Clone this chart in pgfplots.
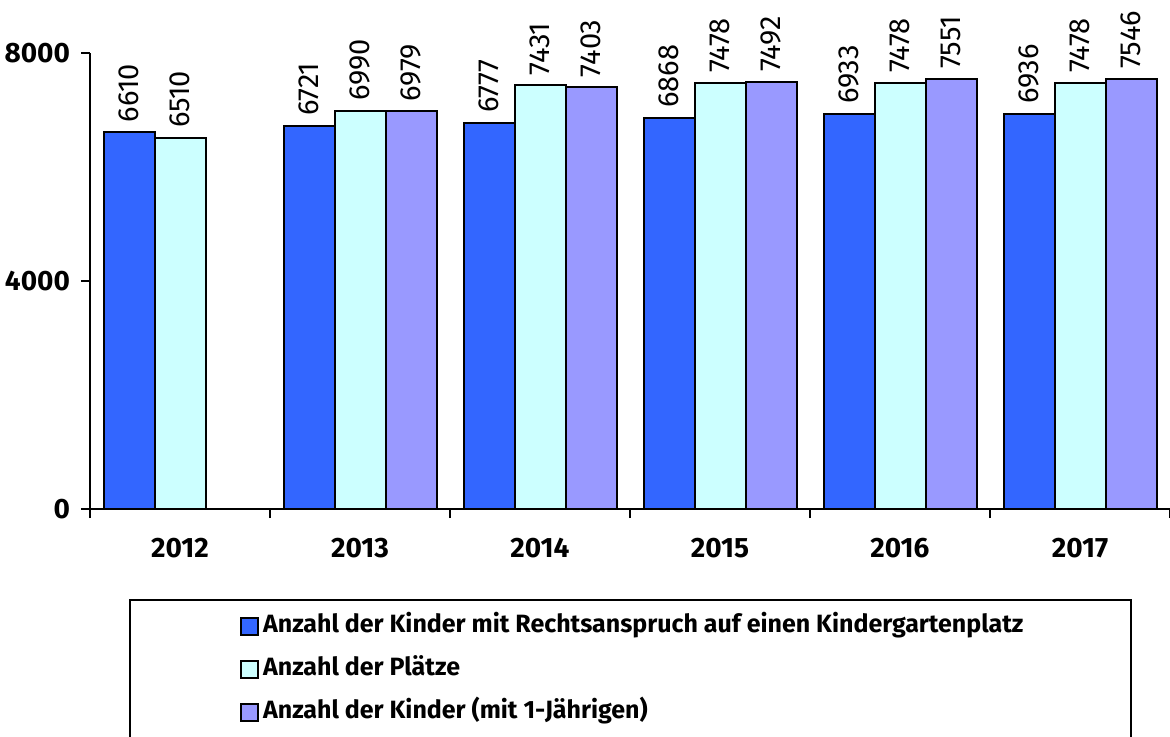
\documentclass[border=0pt]{standalone}
\usepackage{fontspec}
\setmainfont{Fira Sans}
\usepackage{pgfplots}
\pgfplotsset{compat=1.18}
\definecolor{cA}{HTML}{3366FF}
\definecolor{cB}{HTML}{CCFFFF}
\definecolor{cC}{HTML}{9999FF}
\begin{document}
\begin{tikzpicture}
\clip (-45pt,-113.5pt) rectangle (540pt,254.5pt);
\begin{axis}[
  scale only axis,
  width=540pt, height=228pt,
  xmin=-0.5, xmax=5.5,
  ymin=0, ymax=8000,
  axis x line*=bottom, axis y line*=left,
  axis line style={line width=1pt},
  ybar,
  bar width=25.5pt,
  xtick={-0.5,0.5,...,5.5},
  xticklabels={},
  extra x ticks={0,1,2,3,4,5},
  extra x tick labels={2012,2013,2014,2015,2016,2017},
  extra x tick style={major tick length=0pt},
  ytick={0,4000,8000},
  tick align=outside,
  major tick length=4.5pt,
  tick style={line width=1pt, black},
  ticklabel style={font=\fontsize{14}{16}\selectfont\bfseries},
  xticklabel style={yshift=-11pt},
  yticklabel style={xshift=-2pt},
  /pgf/number format/assume math mode=true,
  /pgf/number format/set thousands separator={},
  nodes near coords,
  every node near coord/.append style={rotate=90, anchor=west, font=\fontsize{14.5}{16}\selectfont, inner sep=4.5pt},
  legend style={at={(0.1333,-0.222)}, anchor=north west, draw=none, fill=none,
    font=\fontsize{12.5}{14}\selectfont\bfseries,
    nodes={inner sep=0pt, text height=9pt, text depth=3pt},
    row sep=9.5pt},
  legend cell align=left,
  legend image code/.code={\draw[#1,line width=0.9pt,draw=black] (0pt,-4.25pt) rectangle (8.5pt,4.25pt);},
  /pgfplots/legend style={/tikz/every even column/.append style={column sep=2pt}},
  every axis plot/.append style={draw=black, line width=1pt},
  clip=false,
]
\addplot[fill=cA, bar shift=-25.5pt] coordinates {(0,6610) (1,6721) (2,6777) (3,6868) (4,6933) (5,6936)};
\addplot[fill=cB, bar shift=0pt] coordinates {(0,6510) (1,6990) (2,7431) (3,7478) (4,7478) (5,7478)};
\addplot[fill=cC, bar shift=25.5pt] coordinates {(1,6979) (2,7403) (3,7492) (4,7551) (5,7546)};
\legend{\hspace{2pt}Anzahl der Kinder mit Rechtsanspruch auf einen Kindergartenplatz, \hspace{2pt}Anzahl der Plätze, \hspace{2pt}Anzahl der Kinder (mit 1-Jährigen)}
\end{axis}
\draw[line width=1pt] (20pt,-45.5pt) rectangle (520.5pt,-130pt);
\end{tikzpicture}
\end{document}
